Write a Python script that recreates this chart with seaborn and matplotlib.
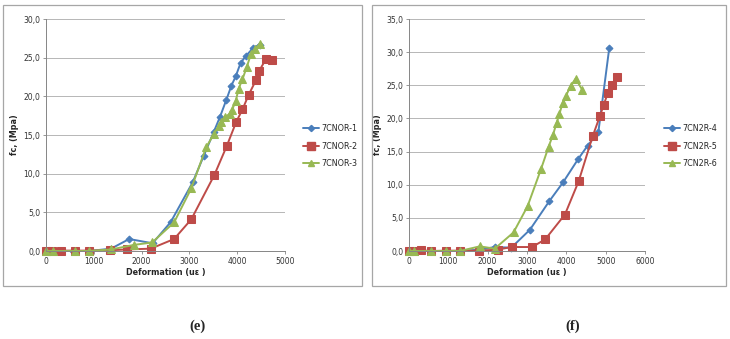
import numpy as np
import pandas as pd
import matplotlib
matplotlib.use("Agg")
import matplotlib.pyplot as plt
import seaborn as sns
from matplotlib.patches import Rectangle
from matplotlib.lines import Line2D
from matplotlib.ticker import FuncFormatter, MultipleLocator

# ---- data: panel (e) ----
e1_x = [0, 100, 560, 900, 1360, 1740, 2230, 2610, 3070, 3300, 3510, 3640, 3770, 3880, 3970, 4070, 4180, 4340, 4480]
e1_y = [0, 0, 0, 0, 0.3, 1.55, 1.0, 3.75, 8.9, 12.3, 15.4, 17.35, 19.5, 21.4, 22.6, 24.3, 25.2, 26.3, 26.7]
e2_x = [0, 120, 310, 610, 890, 1340, 1690, 2190, 2680, 3040, 3520, 3780, 3980, 4110, 4240, 4390, 4460, 4600, 4720]
e2_y = [0, 0, 0.05, 0.05, 0.05, 0.1, 0.2, 0.3, 1.55, 4.1, 9.8, 13.55, 16.7, 18.3, 20.2, 22.05, 23.3, 24.8, 24.7]
e3_x = [0, 150, 610, 890, 1360, 1850, 2220, 2680, 3040, 3350, 3510, 3610, 3670, 3740, 3840, 3890, 3970, 4030, 4110, 4200, 4290, 4370, 4480]
e3_y = [0, 0, 0, 0, 0.2, 0.8, 1.1, 3.7, 8.1, 13.4, 15.1, 16.1, 16.7, 17.35, 17.7, 18.2, 19.4, 21.0, 22.2, 23.8, 25.5, 26.1, 26.8]
e_names = ["7CNOR-1", "7CNOR-2", "7CNOR-3"]

# ---- data: panel (f) ----
f4_x = [0, 130, 570, 930, 1290, 1800, 2180, 2600, 3073, 3565, 3922, 4304, 4542, 4813, 5093]
f4_y = [0, 0, 0, 0, 0, 0.2, 0.6, 0.5, 3.2, 7.5, 10.4, 13.9, 15.9, 17.9, 30.7]
f5_x = [0, 130, 310, 570, 930, 1290, 1775, 2250, 2606, 3130, 3463, 3964, 4312, 4669, 4856, 4950, 5059, 5161, 5297]
f5_y = [0, 0, 0.1, 0, 0.05, 0.05, 0.05, 0.2, 0.6, 0.6, 1.76, 5.5, 10.5, 17.3, 20.4, 22.05, 23.9, 25.1, 26.2]
f6_x = [0, 130, 570, 930, 1290, 1800, 2180, 2657, 3014, 3353, 3548, 3659, 3752, 3820, 3905, 3990, 4109, 4236, 4406]
f6_y = [0, 0, 0, 0, 0, 0.7, 0.35, 2.8, 6.75, 12.3, 15.7, 17.5, 19.3, 20.6, 22.3, 23.4, 24.9, 26.0, 24.3]
f_names = ["7CN2R-4", "7CN2R-5", "7CN2R-6"]

colors = ["#4A7EBB", "#BE4B48", "#98B954"]
markers = ["D", "s", "^"]
msizes = [3.5, 5.8, 5.2]

sns.set_style("white")
plt.rcParams["font.family"] = ["DejaVu Sans"]

fig = plt.figure(figsize=(7.3, 3.39), dpi=100)
W, H = 730, 339

def fx(px):
    return px / W

def fy(py):
    return 1 - py / H

# outer boxes
for (x0, y0, x1, y1) in [(3, 5, 362, 286), (372, 5, 726, 286)]:
    fig.patches.append(Rectangle((fx(x0), fy(y1)), fx(x1 - x0), (y1 - y0) / H,
                                 transform=fig.transFigure, fill=False,
                                 edgecolor="#A6A6A6", linewidth=0.9))

def panel(rect, series, names, xmax, ymax, leg_x, label, label_x):
    ax = fig.add_axes(rect)
    for (xs, ys), name, c, m, ms in zip(series, names, colors, markers, msizes):
        df = pd.DataFrame({"x": xs, "y": ys})
        sns.lineplot(data=df, x="x", y="y", ax=ax, color=c, marker=m,
                     markersize=ms, markeredgecolor=c, linewidth=1.4,
                     sort=False, estimator=None, label=name, clip_on=False)
    ax.set_xlim(0, xmax)
    ax.set_ylim(0, ymax)
    ax.xaxis.set_major_locator(MultipleLocator(1000))
    ax.yaxis.set_major_locator(MultipleLocator(5))
    ax.yaxis.set_major_formatter(FuncFormatter(lambda v, p: f"{v:.1f}".replace(".", ",")))
    ax.grid(axis="y", color="#ABABAB", linewidth=0.6)
    ax.grid(axis="x", visible=False)
    ax.set_axisbelow(True)
    for s in ["top", "right"]:
        ax.spines[s].set_visible(False)
    for s in ["left", "bottom"]:
        ax.spines[s].set_color("#868686")
        ax.spines[s].set_linewidth(0.7)
    ax.tick_params(axis="both", labelsize=5.5, length=2.5,
                   width=0.6, pad=1.5, direction="out", left=True, bottom=True)
    ax.tick_params(axis="both", colors="#868686", labelcolor="#333333")
    ax.set_xlabel("Deformation (uε )", fontsize=5.8, fontweight="bold", labelpad=2)
    ax.set_ylabel("fc, (Mpa)", fontsize=5.8, fontweight="bold", labelpad=3)
    handles = [Line2D([0], [0], color=c, marker=m, markersize=ms * 0.9,
                      markeredgecolor=c, linewidth=1.4)
               for c, m, ms in zip(colors, markers, msizes)]
    ax.legend(handles, names, loc="upper left",
              bbox_to_anchor=(fx(leg_x), fy(121)), bbox_transform=fig.transFigure,
              frameon=False, fontsize=5.8, handlelength=2.0, handletextpad=0.3,
              labelspacing=1.05, borderaxespad=0)
    fig.text(fx(label_x), fy(326), label, ha="center", va="center",
             fontsize=10.5, fontweight="bold", family=["Liberation Serif"])
    return ax

panel([fx(46), fy(251), (285 - 46) / W, (251 - 19) / H],
      [(e1_x, e1_y), (e2_x, e2_y), (e3_x, e3_y)], e_names, 5000, 30, 300, "(e)", 198)
panel([fx(409), fy(251), (645 - 409) / W, (251 - 19) / H],
      [(f4_x, f4_y), (f5_x, f5_y), (f6_x, f6_y)], f_names, 6000, 35, 661, "(f)", 573)

fig.savefig("out.png", dpi=100)
